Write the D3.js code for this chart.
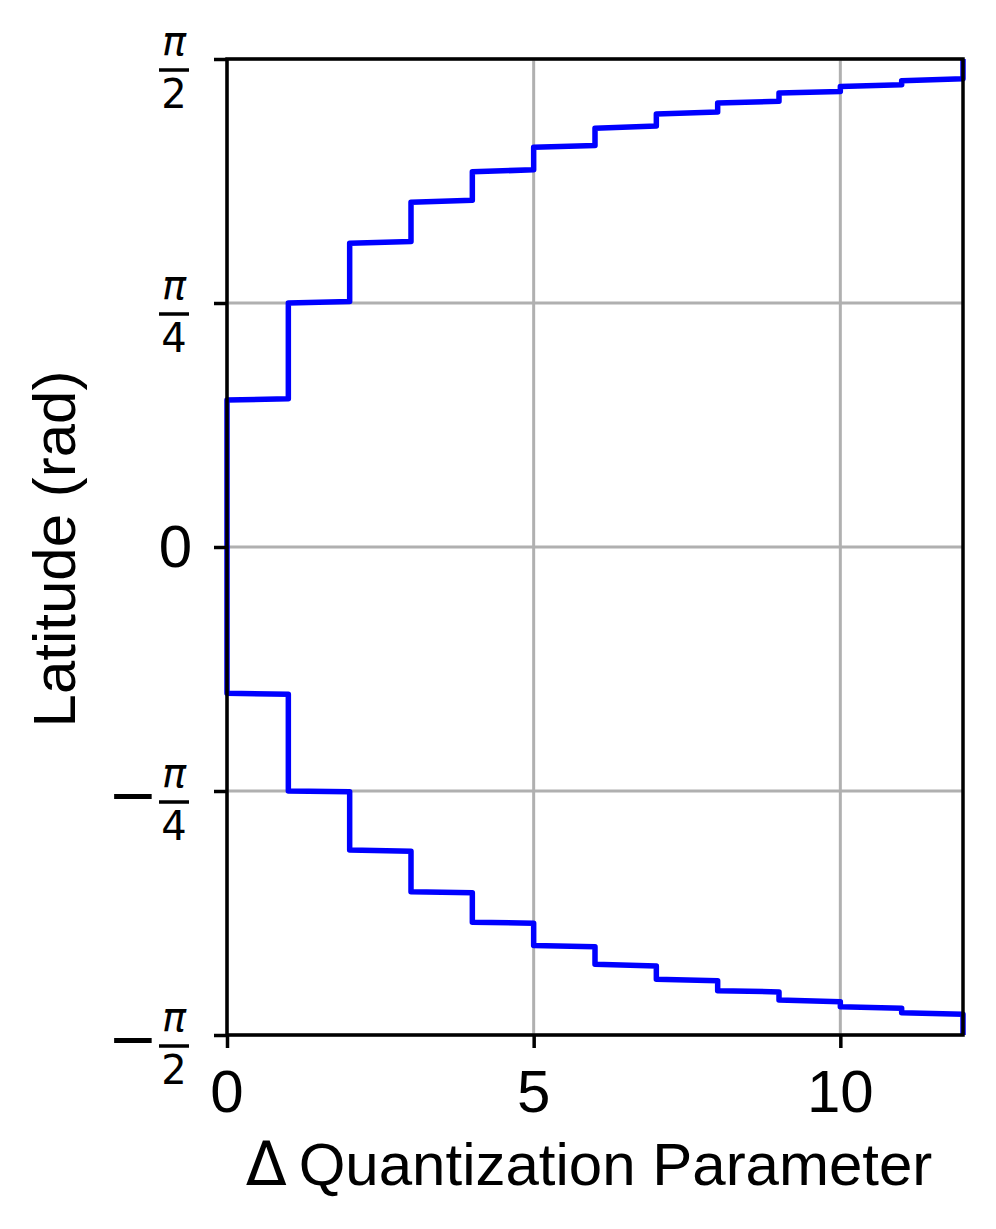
<!DOCTYPE html>
<html>
<head>
<meta charset="utf-8">
<script src="https://cdn.jsdelivr.net/npm/d3@7"></script>
<style>
  body { margin: 0; background: #fff; }
  .grid line { stroke: #b0b0b0; stroke-width: 3; }
  .tick-label { font-family: "Liberation Sans", Arial, sans-serif; font-size: 60px; fill: #000; }
  .math { font-family: "DejaVu Sans", sans-serif; fill: #000; }
</style>
</head>
<body>
<svg width="996" height="1229"></svg>
<script>
// step left edges (Δ QP) and the latitude (rad) at start / end of each step
const stepX = [0, 1, 2, 3, 4, 5, 6, 7, 8, 9, 10, 11];
const upperStart = [0.473, 0.785, 0.978, 1.110, 1.208, 1.287, 1.348, 1.394, 1.429, 1.461, 1.482, 1.501];
const upperEnd = [0.477, 0.790, 0.983, 1.116, 1.214, 1.292, 1.355, 1.400, 1.435, 1.466, 1.488, 1.507];
const lowerStart = [-0.471, -0.785, -0.975, -1.110, -1.208, -1.283, -1.343, -1.391, -1.428, -1.458, -1.480, -1.499];
const lowerEnd = [-0.474, -0.788, -0.979, -1.113, -1.211, -1.287, -1.349, -1.396, -1.432, -1.464, -1.485, -1.504];

const xTicks = [0, 5, 10];
const yTicks = [-Math.PI / 2, -Math.PI / 4, 0, Math.PI / 4, Math.PI / 2];
// sign, numerator, denominator (null denominator = plain number)
const yTickLabels = [
  ["−", "π", "2"],
  ["−", "π", "4"],
  ["", "0", null],
  ["", "π", "4"],
  ["", "π", "2"],
];

function createChart() {
  const svg = d3.select("svg");
  const margin = { top: 59, right: 33, bottom: 194, left: 227 };
  const width = 996 - margin.left - margin.right;
  const height = 1229 - margin.top - margin.bottom;

  const x = d3.scaleLinear().domain([0, 12]).range([0, width]);
  const y = d3.scaleLinear().domain([-Math.PI / 2, Math.PI / 2]).range([height, 0]);

  const g = svg.append("g").attr("transform", `translate(${margin.left},${margin.top})`);

  // grid
  g.append("g")
    .attr("class", "grid")
    .selectAll("line.vx")
    .data(xTicks)
    .join("line")
    .attr("x1", (d) => x(d))
    .attr("x2", (d) => x(d))
    .attr("y1", 0)
    .attr("y2", height);
  g.append("g")
    .attr("class", "grid")
    .selectAll("line.hy")
    .data(yTicks)
    .join("line")
    .attr("x1", 0)
    .attr("x2", width)
    .attr("y1", (d) => y(d))
    .attr("y2", (d) => y(d));

  // contour: down the right edge, upper steps leftwards, across x=0, lower steps rightwards
  const pts = [[12, Math.PI / 2]];
  for (let i = stepX.length - 1; i >= 0; i--) {
    pts.push([stepX[i] + 1, upperEnd[i]]);
    pts.push([stepX[i], upperStart[i]]);
  }
  stepX.forEach((s, i) => {
    pts.push([s, lowerStart[i]]);
    pts.push([s + 1, lowerEnd[i]]);
  });
  pts.push([12, -Math.PI / 2]);

  const line = d3.line().x((d) => x(d[0])).y((d) => y(d[1]));
  g.append("path")
    .datum(pts)
    .attr("d", line)
    .attr("fill", "none")
    .attr("stroke", "#0000ff")
    .attr("stroke-width", 5.5)
    .attr("stroke-linejoin", "round");

  // axes (tick marks only, labels drawn by hand)
  const xAxis = g.append("g")
    .attr("transform", `translate(0,${height})`)
    .call(d3.axisBottom(x).tickValues(xTicks).tickSize(13).tickSizeOuter(0).tickFormat(""));
  const yAxis = g.append("g")
    .call(d3.axisLeft(y).tickValues(yTicks).tickSize(13).tickSizeOuter(0).tickFormat(""));
  [xAxis, yAxis].forEach((a) => {
    a.select(".domain").remove();
    a.selectAll(".tick line").attr("stroke", "#000").attr("stroke-width", 3.5);
  });

  // frame
  g.append("rect")
    .attr("width", width)
    .attr("height", height)
    .attr("fill", "none")
    .attr("stroke", "#000")
    .attr("stroke-width", 3.5);

  // x tick labels
  g.selectAll("text.xt")
    .data(xTicks)
    .join("text")
    .attr("class", "tick-label xt")
    .attr("x", (d) => x(d))
    .attr("y", height + 77)
    .attr("text-anchor", "middle")
    .text((d) => d);

  // y tick labels, fractions of pi
  const cx = -53;
  yTicks.forEach((v, i) => {
    const [sign, num, den] = yTickLabels[i];
    const Y = y(v);
    if (den === null) {
      g.append("text")
        .attr("class", "tick-label")
        .attr("x", -35)
        .attr("y", Y + 20)
        .attr("text-anchor", "end")
        .text(num);
      return;
    }
    const bar = Y + 11;
    g.append("line")
      .attr("x1", cx - 15)
      .attr("x2", cx + 15)
      .attr("y1", bar)
      .attr("y2", bar)
      .attr("stroke", "#000")
      .attr("stroke-width", 3.5);
    g.append("text")
      .attr("class", "math")
      .attr("x", cx)
      .attr("y", bar - 15)
      .attr("text-anchor", "middle")
      .attr("font-size", 40)
      .attr("font-style", "italic")
      .text(num);
    g.append("text")
      .attr("class", "math")
      .attr("x", cx)
      .attr("y", bar + 38)
      .attr("text-anchor", "middle")
      .attr("font-size", 40)
      .text(den);
    if (sign) {
      g.append("text")
        .attr("class", "math")
        .attr("x", cx - 16)
        .attr("y", bar + 13)
        .attr("text-anchor", "end")
        .attr("font-size", 60)
        .text(sign);
    }
  });

  // axis titles
  const xl = svg.append("text")
    .attr("class", "tick-label")
    .attr("x", 589)
    .attr("y", 1185)
    .attr("text-anchor", "middle");
  xl.append("tspan").attr("font-family", "DejaVu Sans").text("Δ");
  xl.append("tspan").attr("dx", 12).text("Quantization Parameter");

  svg.append("text")
    .attr("class", "tick-label")
    .attr("transform", "translate(75,549) rotate(-90)")
    .attr("text-anchor", "middle")
    .text("Latitude (rad)");
}

createChart();
</script>
</body>
</html>
